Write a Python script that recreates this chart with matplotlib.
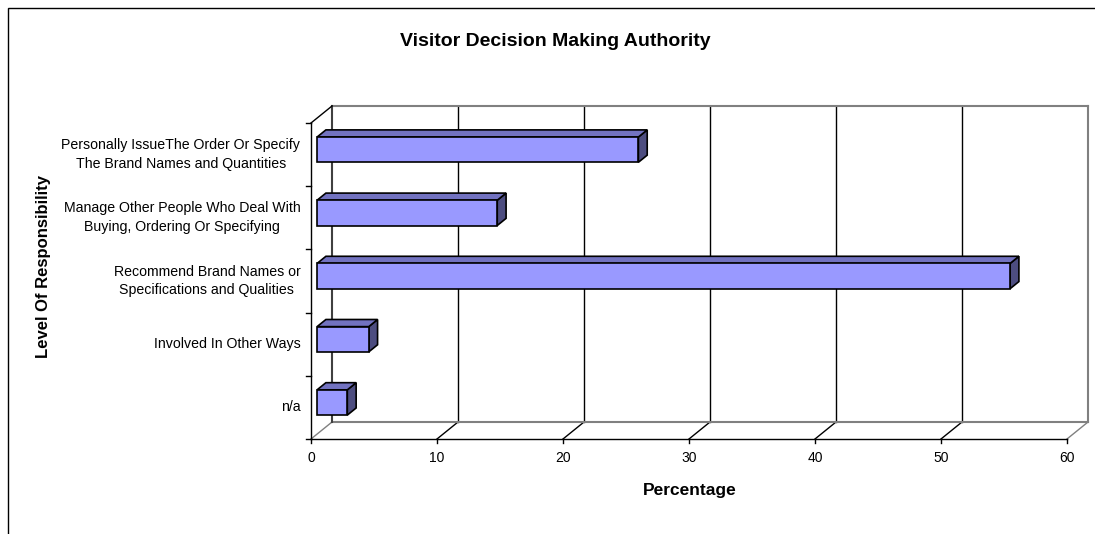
import numpy as np
import matplotlib
matplotlib.use("Agg")
import matplotlib.pyplot as plt
from matplotlib.patches import Rectangle, Polygon

plt.rcParams['font.family'] = ['Liberation Sans', 'DejaVu Sans']

# data, top to bottom as shown
categories = [
    "Personally IssueThe Order Or Specify\nThe Brand Names and Quantities",
    "Manage Other People Who Deal With\nBuying, Ordering Or Specifying",
    "Recommend Brand Names or\nSpecifications and Qualities",
    "Involved In Other Ways",
    "n/a",
]
values = [25.5, 14.3, 55.0, 4.1, 2.4]
xticks = [0, 10, 20, 30, 40, 50, 60]

W, H = 1095, 534
fig = plt.figure(figsize=(W / 100, H / 100), dpi=100)
fig.patch.set_facecolor('white')

# outer chart frame (cropped at right and bottom)
fig.add_artist(Rectangle((8 / W, -0.2), 1.2, 1.2 - 8 / H, transform=fig.transFigure,
                         fill=False, ec='black', lw=1.0))

ax = fig.add_axes([311 / W, 95 / H, 756 / W, 316 / H])
ax.set_xlim(0, 60)
ax.set_ylim(4.5, -0.5)
ax.axis('off')

# depth of the 3d box in data units
DX = 21 / (756 / 60)
DY = 17 / (316 / 5)
y0, y1 = 4.5, -0.5
xmax = 60

gray = '#808080'
# back wall gridlines
for t in xticks[1:-1]:
    ax.plot([t + DX, t + DX], [y0 - DY, y1 - DY], color='black', lw=1, clip_on=False)
# floor diagonals
for t in xticks:
    c = 'black' if 0 < t < 60 else gray
    ax.plot([t, t + DX], [y0, y0 - DY], color=c, lw=1, clip_on=False)
# back wall edges
ax.plot([0 + DX, xmax + DX], [y0 - DY, y0 - DY], color=gray, lw=1.5, clip_on=False)
ax.plot([0 + DX, xmax + DX], [y1 - DY, y1 - DY], color=gray, lw=1.5, clip_on=False)
ax.plot([xmax + DX, xmax + DX], [y0 - DY, y1 - DY], color=gray, lw=1.5, clip_on=False)
# left wall
ax.plot([0 + DX, 0 + DX], [y0 - DY, y1 - DY], color='#404040', lw=1.5, clip_on=False)
ax.plot([0, DX], [y1, y1 - DY], color='black', lw=1, clip_on=False)
ax.plot([0, 0], [y0, y1], color='black', lw=1, clip_on=False)
# front floor line
ax.plot([0, xmax], [y0, y0], color='black', lw=1, clip_on=False)

# ticks
for t in xticks:
    ax.plot([t, t], [y0, y0 + 0.07], color='black', lw=1, clip_on=False)
    ax.text(t, y0 + 0.19, str(t), ha='center', va='top', fontsize=10)
for b in np.arange(-0.5, 5, 1.0):
    ax.plot([0, -0.4], [b, b], color='black', lw=1, clip_on=False)
for i, lab in enumerate(categories):
    ax.text(-0.85, i, lab, ha='right', va='center', multialignment='center',
            fontsize=10.2, linespacing=1.45)

# bars
f1, f2 = 0.29, 0.71
h = 0.4
for i, v in enumerate(values):
    top = i - h / 2
    bot = i + h / 2
    ox1, oy1 = f1 * DX, -f1 * DY
    ox2, oy2 = f2 * DX, -f2 * DY
    front = Polygon([(ox1, bot + oy1), (v + ox1, bot + oy1), (v + ox1, top + oy1), (ox1, top + oy1)],
                    closed=True, fc='#9999FF', ec='black', lw=1.2, clip_on=False, zorder=3)
    topf = Polygon([(ox1, top + oy1), (v + ox1, top + oy1), (v + ox2, top + oy2), (ox2, top + oy2)],
                   closed=True, fc='#7272C0', ec='black', lw=1.2, clip_on=False, zorder=3)
    side = Polygon([(v + ox1, bot + oy1), (v + ox2, bot + oy2), (v + ox2, top + oy2), (v + ox1, top + oy1)],
                   closed=True, fc='#4D4D80', ec='black', lw=1.2, clip_on=False, zorder=3)
    for p in (side, topf, front):
        ax.add_patch(p)

fig.text(555 / W, 1 - 41 / H, "Visitor Decision Making Authority", ha='center', va='center',
         fontsize=14, fontweight='bold')
fig.text(690 / W, 1 - 491 / H, "Percentage", ha='center', va='center',
         fontsize=12.5, fontweight='bold')
fig.text(44 / W, 1 - 266 / H, "Level Of Responsibility", ha='center', va='center',
         rotation=90, fontsize=12, fontweight='bold')

fig.savefig('out.png', dpi=100)
